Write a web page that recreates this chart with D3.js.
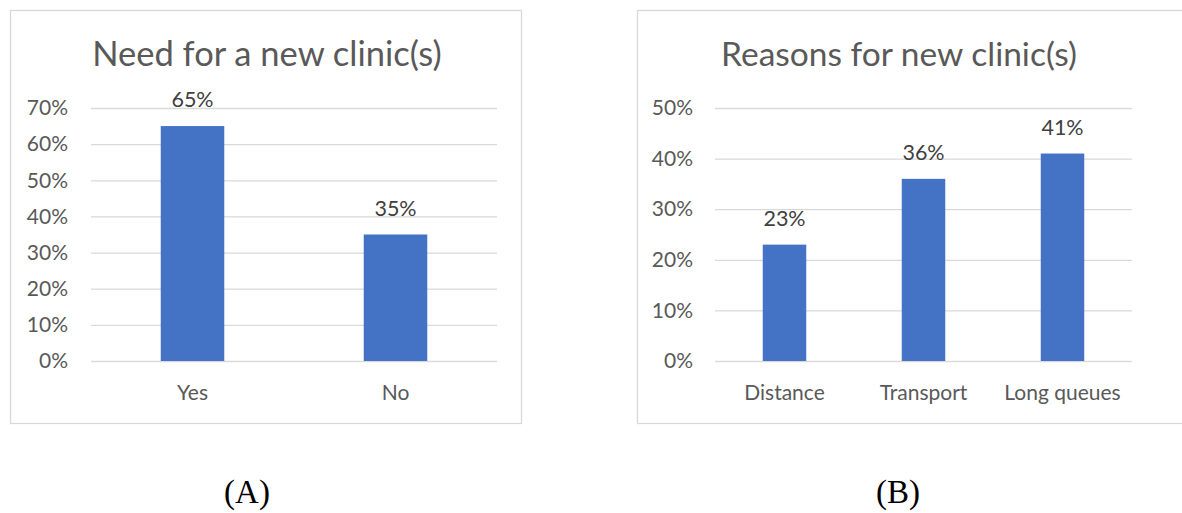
<!DOCTYPE html>
<html>
<head>
<meta charset="utf-8">
<script src="https://cdn.jsdelivr.net/npm/d3@7"></script>
<style>
  html, body { margin: 0; padding: 0; background: #fff; }
  svg { display: block; }
</style>
</head>
<body>
<svg id="chart" width="1182" height="513"></svg>
<script>
// Panel A: need for a new clinic
const titleA = "Need for a new clinic(s)";
const categoriesA = ["Yes", "No"];
const valuesA = [0.65, 0.35];
const ticksA = [0, 0.1, 0.2, 0.3, 0.4, 0.5, 0.6, 0.7];
const captionA = "(A)";

// Panel B: reasons for a new clinic
const titleB = "Reasons for new clinic(s)";
const categoriesB = ["Distance", "Transport", "Long queues"];
const valuesB = [0.23, 0.36, 0.41];
const ticksB = [0, 0.1, 0.2, 0.3, 0.4, 0.5];
const captionB = "(B)";

const svg = d3.select("#chart");
const pct = d3.format(".0%");
const FONT = "Lato, 'Open Sans', sans-serif";
const GAP = 0.687; // gap between columns as a share of each category slot

function drawPanel(cfg) {
  const g = svg.append("g");

  // chart frame
  g.append("rect")
    .attr("x", cfg.frame[0] + 0.5).attr("y", cfg.frame[1] + 0.5)
    .attr("width", cfg.frame[2] - cfg.frame[0]).attr("height", cfg.frame[3] - cfg.frame[1])
    .attr("fill", "#fff").attr("stroke", "#d9d9d9").attr("stroke-width", 1.3);

  // title
  g.append("text")
    .attr("x", cfg.titleX).attr("y", 66)
    .attr("text-anchor", "middle")
    .attr("font-family", FONT).attr("font-size", cfg.titleSize)
    .attr("fill", "#595959")
    .text(cfg.title);

  const x = d3.scaleBand()
    .domain(cfg.categories)
    .range([cfg.plot.left, cfg.plot.right])
    .paddingInner(GAP).paddingOuter(GAP / 2);
  const y = d3.scaleLinear()
    .domain([0, d3.max(cfg.ticks)])
    .range([cfg.plot.bottom, cfg.plot.top]);

  // horizontal gridlines
  const grid = g.append("g")
    .attr("transform", `translate(${cfg.plot.left},0)`)
    .call(d3.axisLeft(y).tickValues(cfg.ticks)
      .tickSize(-(cfg.plot.right - cfg.plot.left)).tickFormat(""));
  grid.select(".domain").remove();
  grid.selectAll(".tick line").attr("stroke", "#d9d9d9").attr("stroke-width", 1.3);

  // y tick labels
  const yAxis = g.append("g")
    .attr("transform", `translate(${cfg.plot.left - cfg.labelGap},0)`)
    .call(d3.axisLeft(y).tickValues(cfg.ticks).tickSize(0).tickPadding(0).tickFormat(pct));
  yAxis.select(".domain").remove();
  yAxis.selectAll("text")
    .attr("font-family", FONT).attr("font-size", 21)
    .attr("fill", "#595959");

  // category labels
  const xAxis = g.append("g")
    .attr("transform", `translate(0,${cfg.plot.bottom})`)
    .call(d3.axisBottom(x).tickSize(0).tickPadding(0));
  xAxis.select(".domain").remove();
  xAxis.selectAll("text")
    .attr("dy", null).attr("y", 39)
    .attr("font-family", FONT).attr("font-size", 21)
    .attr("fill", "#595959");

  // columns
  g.selectAll("rect.bar")
    .data(cfg.values)
    .join("rect")
    .attr("class", "bar")
    .attr("x", (d, i) => x(cfg.categories[i]))
    .attr("width", x.bandwidth())
    .attr("y", d => y(d))
    .attr("height", d => y(0) - y(d))
    .attr("fill", "#4472c4");

  // value labels
  g.selectAll("text.val")
    .data(cfg.values)
    .join("text")
    .attr("class", "val")
    .attr("x", (d, i) => x(cfg.categories[i]) + x.bandwidth() / 2)
    .attr("y", d => y(d) - 19)
    .attr("text-anchor", "middle")
    .attr("font-family", FONT).attr("font-size", 21.5)
    .attr("fill", "#404040")
    .text(d => pct(d));

  // caption under the panel
  svg.append("text")
    .attr("x", cfg.captionX).attr("y", 503)
    .attr("text-anchor", "middle")
    .attr("font-family", "'Liberation Serif', 'Times New Roman', serif")
    .attr("font-size", 33)
    .attr("fill", "#000")
    .text(cfg.caption);
}

drawPanel({
  frame: [10, 10, 521, 423],
  title: titleA, titleX: 267, titleSize: 34.5,
  categories: categoriesA, values: valuesA, ticks: ticksA,
  plot: { left: 91, right: 497, top: 108, bottom: 361 },
  labelGap: 23,
  caption: captionA, captionX: 247
});

drawPanel({
  frame: [637, 10, 1190, 423],
  title: titleB, titleX: 899, titleSize: 33.5,
  categories: categoriesB, values: valuesB, ticks: ticksB,
  plot: { left: 715, right: 1132, top: 108, bottom: 361 },
  labelGap: 22,
  caption: captionB, captionX: 898
});
</script>
</body>
</html>
